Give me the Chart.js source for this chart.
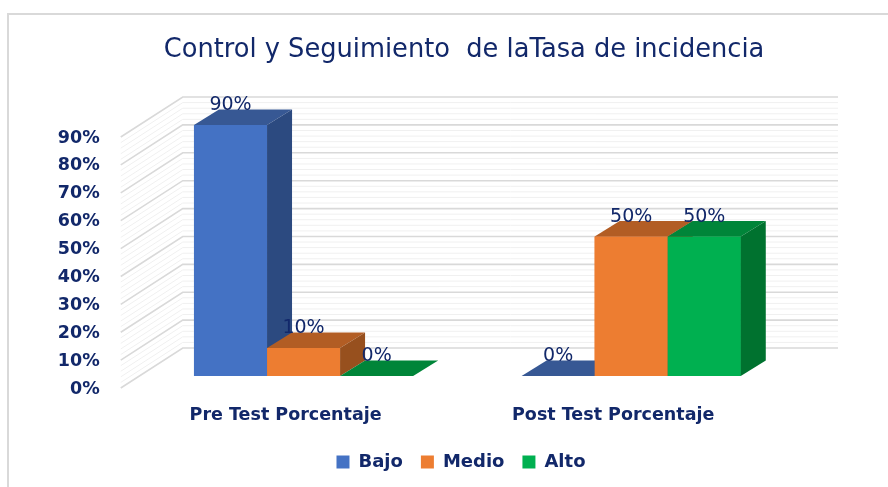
<!DOCTYPE html>
<html>
<head>
<meta charset="utf-8">
<title>Control y Seguimiento de la Tasa de incidencia</title>
<script src="https://cdn.jsdelivr.net/npm/chart.js@4"></script>
<style>
  html, body { margin: 0; padding: 0; background: #fff; }
  #frame { position: absolute; left: 7px; top: 13px; right: 0; bottom: 0; border-left: 2px solid #d9d9d9; border-top: 2px solid #d9d9d9; }
  #wrap { position: absolute; left: 0; top: 0; width: 888px; height: 487px; }
</style>
</head>
<body>
<div id="frame"></div>
<div id="wrap"><canvas id="chart"></canvas></div>
<script>
'use strict'

const categories = ['Pre Test Porcentaje', 'Post Test Porcentaje']
const seriesNames = ['Bajo', 'Medio', 'Alto']
const bajo = [90, 0]
const medio = [10, 50]
const alto = [0, 50]
const frontColors = ['#4472C4', '#ED7D31', '#00B050']
const topColors = ['#375894', '#B25D24', '#008539']
const sideColors = ['#2C4A80', '#97501E', '#00722F']

const navy = '#12286A'
const barDepth = { dx: 25, dy: -15.5 }
const wallBack = { dx: 43, dy: -28 }
const wallFront = { dx: -19, dy: 12 }

function poly(ctx, pts, color) {
    ctx.fillStyle = color
    ctx.beginPath()
    pts.forEach((p, i) => i ? ctx.lineTo(p[0], p[1]) : ctx.moveTo(p[0], p[1]))
    ctx.closePath()
    ctx.fill()
}

// back wall and left wall, with 4 minor lines per 10%
const wallsPlugin = {
    id: 'walls',
    afterLayout(chart) {
        // legend sits a little left of the title in the original
        chart.legend.left -= 3
        chart.legend.right -= 3
    },
    beforeDatasetsDraw(chart) {
        const ctx = chart.ctx
        const y = chart.scales.y
        const left = chart.chartArea.left
        const right = chart.chartArea.right
        ctx.save()
        for (let v = 0; v <= y.max + 0.01; v += 2) {
            const major = v % 10 === 0
            const py = y.getPixelForValue(v)
            ctx.strokeStyle = major ? '#D9D9D9' : '#F0F0F0'
            ctx.lineWidth = major ? 1.6 : 1
            ctx.beginPath()
            ctx.moveTo(left + wallFront.dx, py + wallFront.dy)
            ctx.lineTo(left + wallBack.dx, py + wallBack.dy)
            ctx.lineTo(right + wallBack.dx, py + wallBack.dy)
            ctx.stroke()
        }
        ctx.restore()
    }
}

// depth faces, bars redrawn in series order so later fronts cover earlier sides
const depthPlugin = {
    id: 'depth',
    afterDatasetsDraw(chart) {
        const ctx = chart.ctx
        const dx = barDepth.dx
        const dy = barDepth.dy
        ctx.save()
        chart.data.datasets.forEach((ds, i) => {
            chart.getDatasetMeta(i).data.forEach(bar => {
                const l = bar.x - bar.width / 2
                const r = bar.x + bar.width / 2
                bar.draw(ctx)
                poly(ctx, [[l, bar.y], [r, bar.y], [r + dx, bar.y + dy], [l + dx, bar.y + dy]], topColors[i])
                if (bar.base - bar.y > 0) {
                    poly(ctx, [[r, bar.y], [r + dx, bar.y + dy], [r + dx, bar.base + dy], [r, bar.base]], sideColors[i])
                }
            })
        })
        ctx.font = '19px "DejaVu Sans"'
        ctx.fillStyle = navy
        ctx.textAlign = 'center'
        ctx.textBaseline = 'middle'
        chart.data.datasets.forEach((ds, i) => {
            chart.getDatasetMeta(i).data.forEach((bar, j) => {
                ctx.fillText(ds.data[j] + '%', bar.x, bar.y - 20)
            })
        })
        ctx.restore()
    }
}

const seriesValues = [bajo, medio, alto]

new Chart(document.getElementById('chart'), {
    type: 'bar',
    data: {
        labels: categories,
        datasets: seriesNames.map((name, i) => ({
            label: name,
            data: seriesValues[i],
            backgroundColor: frontColors[i],
            borderWidth: 0,
            categoryPercentage: 0.669,
            barPercentage: 1
        }))
    },
    options: {
        responsive: true,
        maintainAspectRatio: false,
        animation: false,
        layout: { padding: { left: 40, right: 0, top: 0, bottom: 6 } },
        plugins: {
            title: {
                display: true,
                text: 'Control y Seguimiento  de laTasa de incidencia',
                color: navy,
                font: { family: '"DejaVu Sans"', size: 25.7, weight: 'normal' },
                padding: { top: 35, bottom: 59.2 }
            },
            legend: {
                position: 'bottom',
                labels: {
                    color: navy,
                    font: { family: '"DejaVu Sans"', size: 18, weight: 'bold' },
                    boxWidth: 13,
                    boxHeight: 13,
                    padding: 18
                }
            },
            tooltip: { enabled: false }
        },
        scales: {
            x: {
                grid: { display: false, drawTicks: false },
                border: { display: false },
                ticks: {
                    color: navy,
                    padding: 29,
                    labelOffset: -18,
                    font: { family: '"DejaVu Sans"', size: 17.5, weight: 'bold' },
                    maxRotation: 0
                },
                afterFit(scale) { scale.height = 59 }
            },
            y: {
                min: 0,
                max: 90,
                grid: { display: false, drawTicks: false },
                border: { display: false },
                ticks: {
                    stepSize: 10,
                    color: navy,
                    padding: 40,
                    labelOffset: 13,
                    font: { family: '"DejaVu Sans"', size: 17.5, weight: 'bold' },
                    callback: v => v + '%'
                },
                afterFit(scale) { scale.width = 99.75 }
            },
            // empty axis, keeps the right margin free without moving title and legend
            spacer: {
                position: 'right',
                grid: { display: false, drawTicks: false },
                border: { display: false },
                ticks: { display: false },
                afterFit(scale) { scale.width = 93 }
            }
        }
    },
    plugins: [wallsPlugin, depthPlugin]
})
</script>
</body>
</html>
